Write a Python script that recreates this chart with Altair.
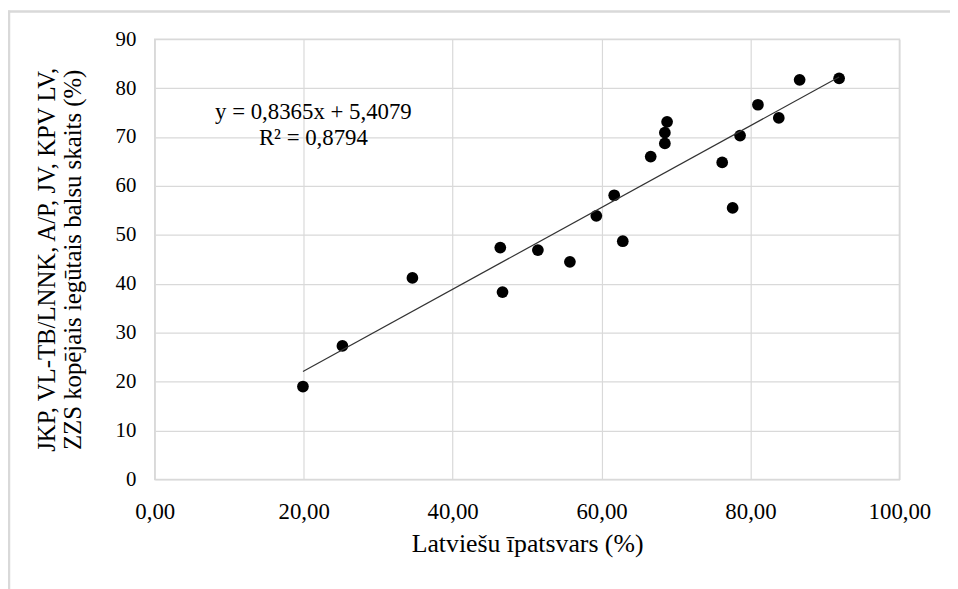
import altair as alt
import pandas as pd

# Data
latviesu = [19.9, 25.2, 34.6, 46.4, 46.7, 51.45, 55.75, 59.3, 61.7, 62.85, 66.6,
            68.5, 68.5, 68.8, 76.2, 77.6, 78.6, 81.0, 83.8, 86.6, 91.9]
balsis = [19.0, 27.3, 41.2, 47.4, 38.3, 46.9, 44.5, 53.9, 58.1, 48.7, 66.0,
          68.7, 70.9, 73.1, 64.8, 55.5, 70.3, 76.6, 73.9, 81.7, 82.0]
slope = 0.8365
intercept = 5.4079
eq_lines = ["y = 0,8365x + 5,4079", "R\u00b2 = 0,8794"]
x_title = "Latvie\u0161u \u012bpatsvars (%)"
y_title = ["JKP, VL-TB/LNNK, A/P, JV, KPV LV,", "ZZS kop\u0113jais ieg\u016btais balsu skaits (%)"]

FONT = "Liberation Serif"
GRID = "#d9d9d9"

df = pd.DataFrame({"x": latviesu, "y": balsis})
xmin, xmax = min(latviesu), max(latviesu)
trend = pd.DataFrame({"x": [xmin, xmax], "y": [slope * xmin + intercept, slope * xmax + intercept]})

xscale = alt.Scale(domain=[0, 100], nice=False, zero=False)
yscale = alt.Scale(domain=[0, 90], nice=False, zero=False)

xaxis = alt.Axis(values=[0, 20, 40, 60, 80, 100],
                 labelExpr="replace(format(datum.value, '.2f'), '.', ',')",
                 title=x_title, grid=True, ticks=False, domain=False,
                 labelFlush=False, labelOverlap=False,
                 labelFont=FONT, labelFontSize=23, titleFont=FONT, titleFontSize=26,
                 labelPadding=21, titlePadding=8)
yaxis = alt.Axis(values=list(range(0, 100, 10)), title=y_title, grid=True,
                 ticks=False, domain=False, labelFlush=False, labelOverlap=False,
                 labelFont=FONT, labelFontSize=21, titleFont=FONT, titleFontSize=25,
                 titleLineHeight=26,
                 labelPadding=19, titlePadding=30)

points = alt.Chart(df).mark_circle(size=140, color="black", opacity=1).encode(
    x=alt.X("x:Q", scale=xscale, axis=xaxis),
    y=alt.Y("y:Q", scale=yscale, axis=yaxis),
)

line = alt.Chart(trend).mark_line(color="#333333", strokeWidth=1.2).encode(
    x=alt.X("x:Q", scale=xscale),
    y=alt.Y("y:Q", scale=yscale),
)

eq = alt.Chart(pd.DataFrame({"t": [eq_lines]})).mark_text(
    font=FONT, fontSize=23, color="#000000", align="center", baseline="middle",
    lineHeight=27
).encode(text="t", x=alt.value(160), y=alt.value(73))

top_border = alt.Chart(pd.DataFrame({"a": [0]})).mark_rule(color=GRID, strokeWidth=2.5).encode(
    x=alt.value(-148), x2=alt.value(805), y=alt.value(-28)
)
left_border = alt.Chart(pd.DataFrame({"a": [0]})).mark_rule(color=GRID, strokeWidth=2.5).encode(
    x=alt.value(-147), y=alt.value(-29), y2=alt.value(560)
)

chart = alt.layer(points, line, eq, top_border, left_border).properties(
    width=751, height=444,
    autosize=alt.AutoSizeParams(type="none"),
    padding={"left": 148, "top": 29, "right": 51, "bottom": 108},
    background="white",
).configure_view(stroke=GRID, strokeWidth=1.5).configure_axis(
    gridColor=GRID, gridWidth=1.2,
    labelFont=FONT, labelColor="#000000",
    titleFont=FONT, titleColor="#000000", titleFontWeight="normal",
)

chart.save("out.html", embed_options={"renderer": "svg", "actions": False})
